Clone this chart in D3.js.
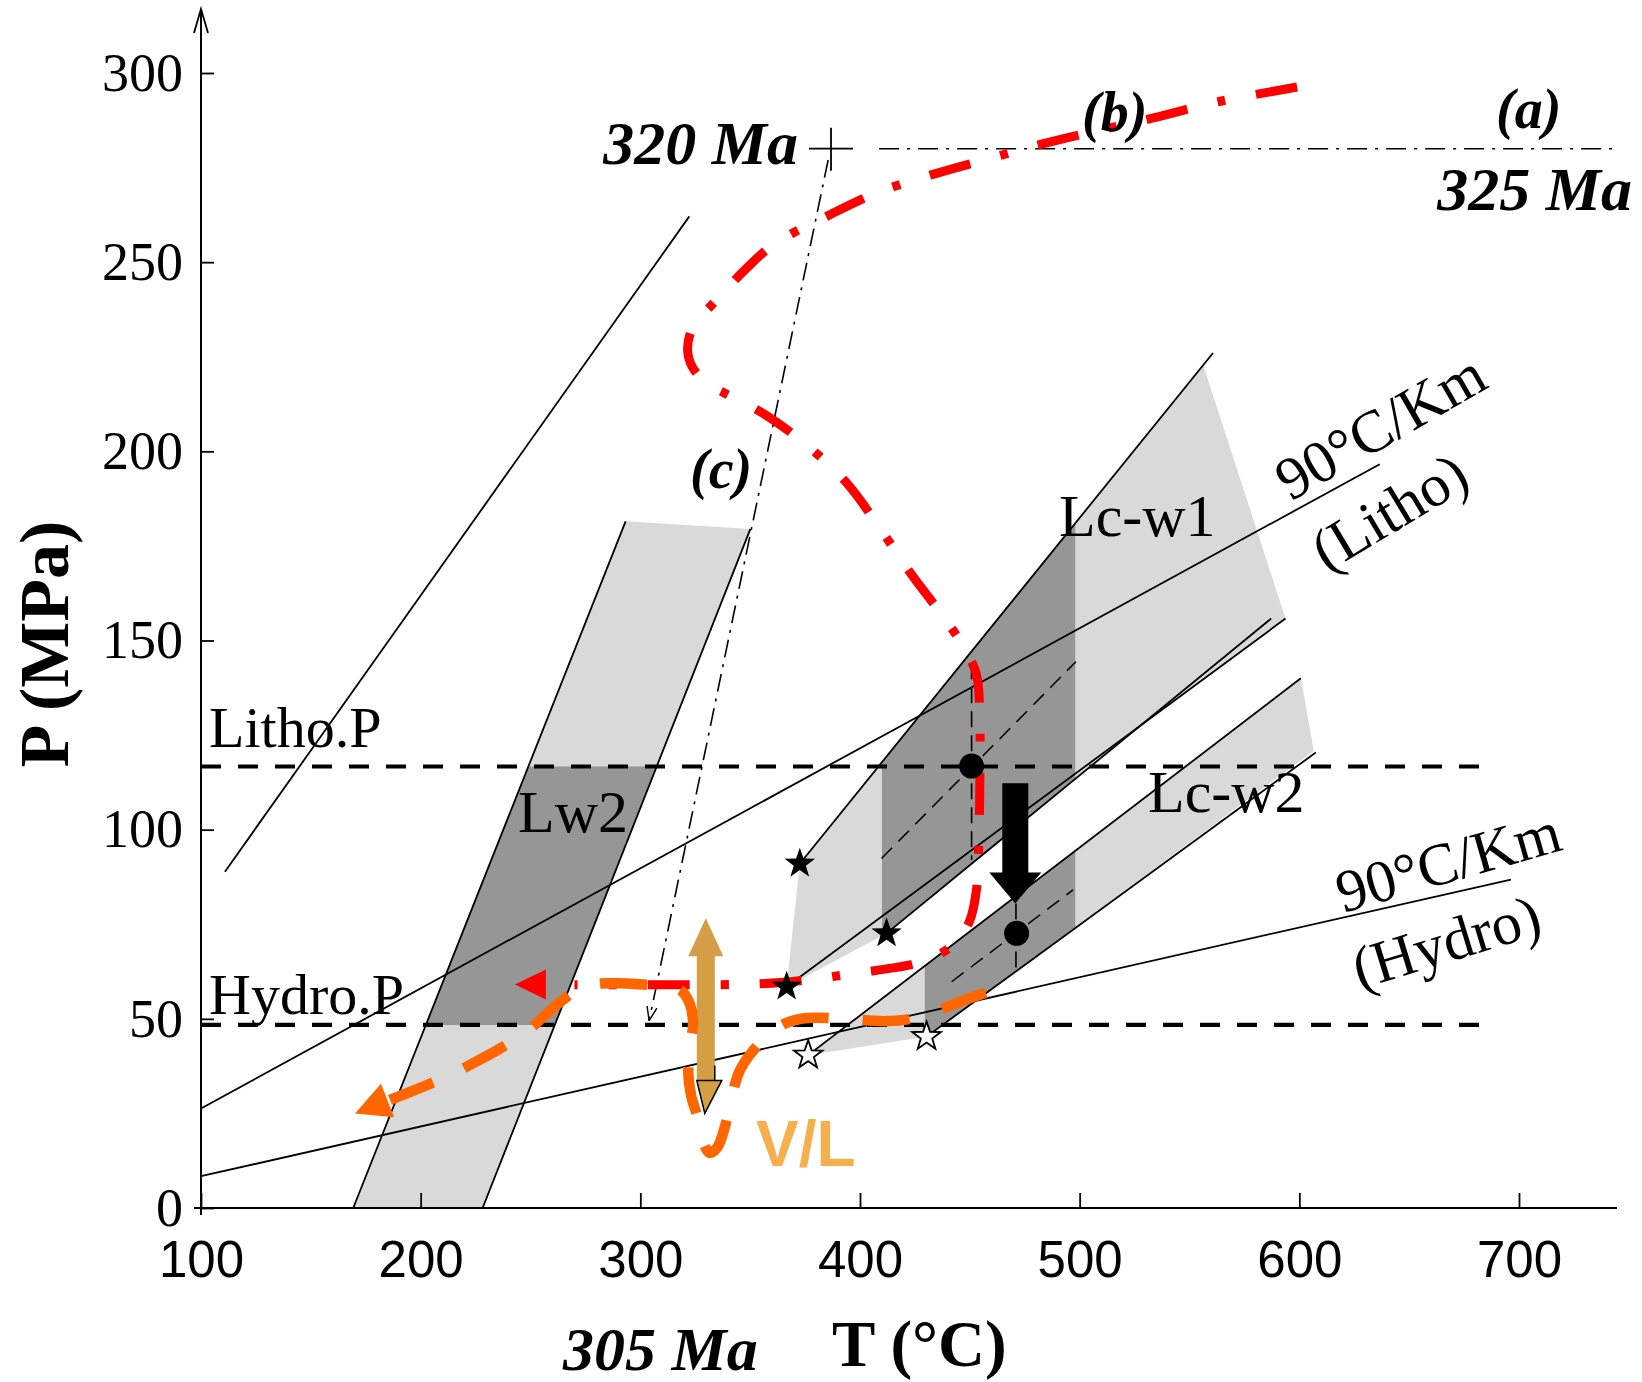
<!DOCTYPE html>
<html>
<head>
<meta charset="utf-8">
<script src="https://d3js.org/d3.v7.min.js"></script>
<style>
  body { margin: 0; background: #fff; }
  text { font-family: "Liberation Serif", "Times New Roman", serif; }
</style>
</head>
<body>
<div id="chart"></div>
<script>
// axis ticks
var xTicks = [100, 200, 300, 400, 500, 600, 700];
var yTicks = [0, 50, 100, 150, 200, 250, 300];

// reference pressures (MPa)
var hydroP = 48.4;
var lithoP = 116.7;

// fluid inclusion bands [T, P]
var lw2Band = [[169.3, 0], [293.3, 181.5], [350.1, 179.5], [228.2, 0]];
var lw2Left = [[169.3, 0], [293.3, 181.5]];
var lw2Right = [[228.2, 0], [350.1, 179.5]];

var filledStars = [[372.6, 91], [412.1, 72.6], [366.6, 58.5]];
var openStars = [[376.4, 40.4], [430.3, 45.3]];

var lcw1Band = [[372.6, 91], [556.3, 222.7], [593.7, 155.8], [527, 127.2], [412.1, 72.6], [366.6, 58.5]];
var lcw1Dark = [410, 498];
var lcw1Upper = [[372.6, 91], [560.7, 226]];
var lcw1LineA = [[366.6, 58.5], [593.7, 155.8]];
var lcw1LineB = [[412.1, 72.6], [587.2, 155.8]];
var lcw1Mid = [[409.8, 92.4], [498.3, 144.4]];

var lcw2Band = [[376.4, 40.4], [600.7, 140], [606.6, 120.8], [430.3, 45.3]];
var lcw2Dark = [429.5, 498];
var lcw2Upper = [[376.4, 40.4], [600.7, 140]];
var lcw2Lower = [[430.3, 45.3], [607.5, 120.4]];
var lcw2Mid = [[441.7, 59.8], [497, 84.1]];

// thin reference lines
var isochoreLeft = [[110.9, 88.9], [322.3, 262.1]];
var geothermLitho = [[100, 26.3], [636.6, 196.6]];
var geothermHydro = [[100, 8.4], [696.3, 86.8]];
var isobar325 = [[408.7, 280], [745.4, 280]];
var plus320 = [386.8, 280];
var path305 = [[385.5, 277], [304, 49.5]];

// trapping points
var dots = [[450.8, 116.8], [471.3, 72.6]];
var dotGuides = [[[450.8, 144], [450.8, 92]], [[471, 80.5], [471, 63]]];
var blackArrow = [470.7, 112.3, 80.5];
var vlArrow = [329.8, 25, 76.6];

// P-T paths
var redPath = [[599, 296.3], [563, 292.4], [534, 288.2], [510, 285], [484, 281.4], [459, 277.4],
  [432, 273], [408, 268.4], [386.5, 262.6], [361, 254.8], [348, 248.2], [335, 240.2], [324, 233],
  [321.5, 227], [323.5, 222.5], [330, 218], [338, 215.5], [350, 212], [360, 208.5], [375, 202],
  [394, 191.6], [411, 178], [424, 167], [437, 157], [447, 148.5], [453, 141], [454.5, 130],
  [454.5, 110], [454, 95], [453, 84], [450, 76], [444, 70.5], [436, 67], [425, 64.6], [412, 63.2],
  [395, 61.8], [380, 60.6], [364, 59.6], [345, 59.1], [310, 59], [270, 59]];
var redTip = [242.9, 59.1];

var orangePath = [[467.4, 58.7], [457, 56.8], [447, 54.8], [436, 52.3], [425, 50.2], [412, 49.4],
  [393, 50], [376, 50.2], [366, 48.8], [358, 45.6], [350.5, 41], [345, 36], [341.5, 29],
  [338.5, 21.5], [335, 16], [331.5, 14.6], [328.5, 17.5], [326, 24], [323, 30], [321.8, 36],
  [322.8, 43], [324, 49], [322.5, 54], [318.5, 57.5], [312, 58.7], [303, 59], [290, 59.4],
  [280, 59.2], [272, 57.8], [266, 55.6], [258, 51.7], [250.5, 47.7], [242, 44.2], [234.5, 41.6],
  [225, 38.6], [215, 35.6], [201.2, 32.1], [186, 28.6]];
var orangeTip = [170.1, 25];

var width = 1642, height = 1382;

var x = d3.scaleLinear().domain([100, 700]).range([201, 1519]);
var y = d3.scaleLinear().domain([0, 300]).range([1208, 73]);

var svg = d3.select("#chart").append("svg")
    .attr("width", width)
    .attr("height", height);

var line = d3.line().x(function(d) { return x(d[0]); }).y(function(d) { return y(d[1]); });
var curve = d3.line().x(function(d) { return x(d[0]); }).y(function(d) { return y(d[1]); })
    .curve(d3.curveCatmullRom);
var poly = function(pts) { return line(pts) + "Z"; };

var defs = svg.append("defs");
defs.append("clipPath").attr("id", "clipLw2").append("rect")
    .attr("x", 0).attr("width", width)
    .attr("y", y(lithoP)).attr("height", y(hydroP) - y(lithoP));
defs.append("clipPath").attr("id", "clipLc1").append("rect")
    .attr("y", 0).attr("height", height)
    .attr("x", x(lcw1Dark[0])).attr("width", x(lcw1Dark[1]) - x(lcw1Dark[0]));
defs.append("clipPath").attr("id", "clipLc2").append("rect")
    .attr("y", 0).attr("height", height)
    .attr("x", x(lcw2Dark[0])).attr("width", x(lcw2Dark[1]) - x(lcw2Dark[0]));
defs.append("marker")
    .attr("id", "vhead")
    .attr("viewBox", "0 -6 14 12")
    .attr("refX", 14).attr("refY", 0)
    .attr("markerWidth", 14).attr("markerHeight", 12)
    .attr("markerUnits", "userSpaceOnUse")
    .attr("orient", "auto")
  .append("path")
    .attr("d", "M0,-5L14,0L0,5")
    .attr("fill", "none").attr("stroke", "#000").attr("stroke-width", 1.4);

var light = "#d9d9d9", dark = "#969696";

// grey bands
var bands = svg.append("g");
bands.append("path").attr("d", poly(lw2Band)).attr("fill", light);
bands.append("path").attr("d", poly(lw2Band)).attr("fill", dark).attr("clip-path", "url(#clipLw2)");
bands.append("path").attr("d", poly(lcw1Band)).attr("fill", light);
bands.append("path").attr("d", poly(lcw1Band)).attr("fill", dark).attr("clip-path", "url(#clipLc1)");
bands.append("path").attr("d", poly(lcw2Band)).attr("fill", light);
bands.append("path").attr("d", poly(lcw2Band)).attr("fill", dark).attr("clip-path", "url(#clipLc2)");

// thin black lines
var thin = svg.append("g").attr("fill", "none").attr("stroke", "#000").attr("stroke-width", 1.8);
[isochoreLeft, geothermLitho, geothermHydro, lw2Left, lw2Right,
 lcw1Upper, lcw1LineA, lcw1LineB, lcw2Upper, lcw2Lower].forEach(function(l) {
  thin.append("path").attr("d", line(l));
});
[lcw1Mid, lcw2Mid].forEach(function(l) {
  thin.append("path").attr("d", line(l)).attr("stroke-width", 1.5).attr("stroke-dasharray", "15,9");
});
dotGuides.forEach(function(l) {
  thin.append("path").attr("d", line(l)).attr("stroke-width", 1.6).attr("stroke-dasharray", "16,8");
});

// dash-dot isobar and path
thin.append("path").attr("d", line(isobar325)).attr("stroke-width", 1.5).attr("stroke-dasharray", "20,8,3,8");
thin.append("path").attr("d", line(path305)).attr("stroke-width", 1.6).attr("stroke-dasharray", "18,7,3,7")
    .attr("marker-end", "url(#vhead)");
thin.append("path").attr("stroke-width", 1.8)
    .attr("d", "M" + (x(plus320[0]) - 22) + "," + y(plus320[1]) + "h44M" + x(plus320[0]) + "," + (y(plus320[1]) - 21) + "v43");

// hydro / litho pressure lines
svg.append("g").selectAll("line")
    .data([hydroP, lithoP])
  .enter().append("line")
    .attr("x1", x(100)).attr("x2", x(688))
    .attr("y1", function(d) { return y(d); })
    .attr("y2", function(d) { return y(d); })
    .attr("stroke", "#000").attr("stroke-width", 4.2)
    .attr("stroke-dasharray", "20,17");

// red path
svg.append("path")
    .attr("d", curve(redPath))
    .attr("fill", "none").attr("stroke", "#ff0000").attr("stroke-width", 9)
    .attr("stroke-dasharray", "42,31,8,31");
svg.append("path")
    .attr("d", "M" + x(redTip[0]) + "," + y(redTip[1]) + "l31,-15v30Z")
    .attr("fill", "#ff0000");

// gold V/L arrow
var gx = x(vlArrow[0]), gBot = y(vlArrow[1]), gTop = y(vlArrow[2]);
svg.append("path")
    .attr("d", "M" + gx + "," + gTop + "l17.5,38h-8.5V" + (gBot - 33) + "h-18V" + (gTop + 38) + "h-8.5Z")
    .attr("fill", "#d49e46");
svg.append("path")
    .attr("d", "M" + (gx - 9) + "," + (gBot - 33) + "h25L" + (gx - 1) + "," + gBot + "Z")
    .attr("fill", "#d49e46").attr("stroke", "#000").attr("stroke-width", 1.5);
svg.append("path")
    .attr("d", "M" + (gx + 9) + "," + (gBot - 48) + "v15")
    .attr("stroke", "#000").attr("stroke-width", 1.5);

// orange path, dash phase set so the last dash runs into the arrow head
var orange = svg.append("path")
    .attr("d", curve(orangePath))
    .attr("fill", "none").attr("stroke", "#ff6600").attr("stroke-width", 10.5)
    .attr("stroke-dasharray", "47,34");
var oLen = orange.node().getTotalLength();
orange.attr("stroke-dashoffset", 47 - (oLen % 81));
var oEnd = orangePath[orangePath.length - 2];
var oAng = Math.atan2(y(orangeTip[1]) - y(oEnd[1]), x(orangeTip[0]) - x(oEnd[0])) * 180 / Math.PI;
svg.append("path")
    .attr("d", "M0,0L-35,-18L-35,18Z")
    .attr("transform", "translate(" + x(orangeTip[0]) + "," + y(orangeTip[1]) + ")rotate(" + oAng + ")")
    .attr("fill", "#ff6600");

// black arrow
var bx = x(blackArrow[0]), bTop = y(blackArrow[1]), bTip = y(blackArrow[2]);
svg.append("path")
    .attr("d", "M" + (bx - 13) + "," + bTop + "h26V" + (bTip - 31) + "h13L" + bx + "," + bTip + "L" + (bx - 26) + "," + (bTip - 31) + "h13Z")
    .attr("fill", "#000");

// trapping dots
svg.append("g").selectAll("circle")
    .data(dots)
  .enter().append("circle")
    .attr("cx", function(d) { return x(d[0]); })
    .attr("cy", function(d) { return y(d[1]); })
    .attr("r", 12.5)
    .attr("fill", "#000");

// stars
function star(R) {
  var pts = [];
  for (var i = 0; i < 10; i++) {
    var r = i % 2 ? R * 0.4 : R;
    var a = -Math.PI / 2 + i * Math.PI / 5;
    pts.push([r * Math.cos(a), r * Math.sin(a)]);
  }
  return "M" + pts.join("L") + "Z";
}
svg.append("g").selectAll("path")
    .data(filledStars)
  .enter().append("path")
    .attr("d", star(16))
    .attr("transform", function(d) { return "translate(" + x(d[0]) + "," + y(d[1]) + ")"; })
    .attr("fill", "#000");
svg.append("g").selectAll("path")
    .data(openStars)
  .enter().append("path")
    .attr("d", star(15))
    .attr("transform", function(d) { return "translate(" + x(d[0]) + "," + y(d[1]) + ")"; })
    .attr("fill", "#fff").attr("stroke", "#000").attr("stroke-width", 1.8);

// axes
var xAxis = svg.append("g")
    .attr("transform", "translate(0," + y(0) + ")")
    .call(d3.axisBottom(x).tickValues(xTicks).tickSizeInner(-15).tickSizeOuter(0).tickPadding(33));
xAxis.select(".domain").remove();
xAxis.selectAll(".tick line").attr("stroke-width", 1.8);
xAxis.selectAll("text")
    .style("font-family", "'Liberation Sans', Arial, sans-serif")
    .attr("font-size", 51);

var yAxis = svg.append("g")
    .attr("transform", "translate(" + x(100) + ",0)")
    .call(d3.axisLeft(y).tickValues(yTicks).tickSizeInner(-13).tickSizeOuter(0).tickPadding(18));
yAxis.select(".domain").remove();
yAxis.selectAll(".tick line").attr("stroke-width", 1.8);
yAxis.selectAll("text").attr("font-size", 54);

svg.append("path")
    .attr("d", "M194," + y(0) + "H1617M" + x(100) + ",1215V10")
    .attr("stroke", "#000").attr("stroke-width", 2).attr("fill", "none");
svg.append("path")
    .attr("d", "M" + (x(100) - 7) + ",33L" + x(100) + ",9L" + (x(100) + 7) + ",33")
    .attr("stroke", "#000").attr("stroke-width", 1.8).attr("fill", "none");

// axis titles
svg.append("text")
    .attr("transform", "translate(68,644)rotate(-90)")
    .attr("text-anchor", "middle")
    .attr("font-weight", "bold").attr("font-size", 70)
    .text("P (MPa)");
svg.append("text")
    .attr("x", 832).attr("y", 1366)
    .attr("font-weight", "bold").attr("font-size", 65)
    .text("T (°C)");

// annotations
var labels = [
  {t: "Litho.P", x: 209, y: 747, s: 58},
  {t: "Hydro.P", x: 209, y: 1014, s: 58},
  {t: "Lw2", x: 518, y: 832, s: 60},
  {t: "Lc-w1", x: 1059, y: 536, s: 60},
  {t: "Lc-w2", x: 1148, y: 812, s: 60}
];
svg.append("g").selectAll("text")
    .data(labels)
  .enter().append("text")
    .attr("x", function(d) { return d.x; })
    .attr("y", function(d) { return d.y; })
    .attr("font-size", function(d) { return d.s; })
    .text(function(d) { return d.t; });

var ages = [
  {t: "320 Ma", x: 798, y: 164, a: "end", s: 62},
  {t: "325 Ma", x: 1632, y: 210, a: "end", s: 62},
  {t: "305 Ma", x: 563, y: 1370, a: "start", s: 62},
  {t: "(a)", x: 1496, y: 128, a: "start", s: 56},
  {t: "(b)", x: 1082, y: 131, a: "start", s: 56},
  {t: "(c)", x: 690, y: 488, a: "start", s: 56}
];
svg.append("g").selectAll("text")
    .data(ages)
  .enter().append("text")
    .attr("x", function(d) { return d.x; })
    .attr("y", function(d) { return d.y; })
    .attr("text-anchor", function(d) { return d.a; })
    .attr("font-size", function(d) { return d.s; })
    .attr("font-weight", "bold").attr("font-style", "italic")
    .text(function(d) { return d.t; });

var gradLabels = [
  {t: "90°C/Km", x: 1380, y: 426, r: -30},
  {t: "(Litho)", x: 1389, y: 511, r: -31},
  {t: "90°C/Km", x: 1448, y: 861, r: -16},
  {t: "(Hydro)", x: 1446, y: 941, r: -17}
];
svg.append("g").selectAll("text")
    .data(gradLabels)
  .enter().append("text")
    .attr("transform", function(d) { return "translate(" + d.x + "," + d.y + ")rotate(" + d.r + ")"; })
    .attr("text-anchor", "middle")
    .attr("dy", "0.35em")
    .attr("font-size", 60)
    .text(function(d) { return d.t; });

svg.append("text")
    .attr("x", 756).attr("y", 1166)
    .style("font-family", "'Liberation Sans', Arial, sans-serif")
    .attr("font-weight", "bold").attr("font-size", 64)
    .attr("fill", "#f5b04d")
    .text("V/L");
</script>
</body>
</html>
